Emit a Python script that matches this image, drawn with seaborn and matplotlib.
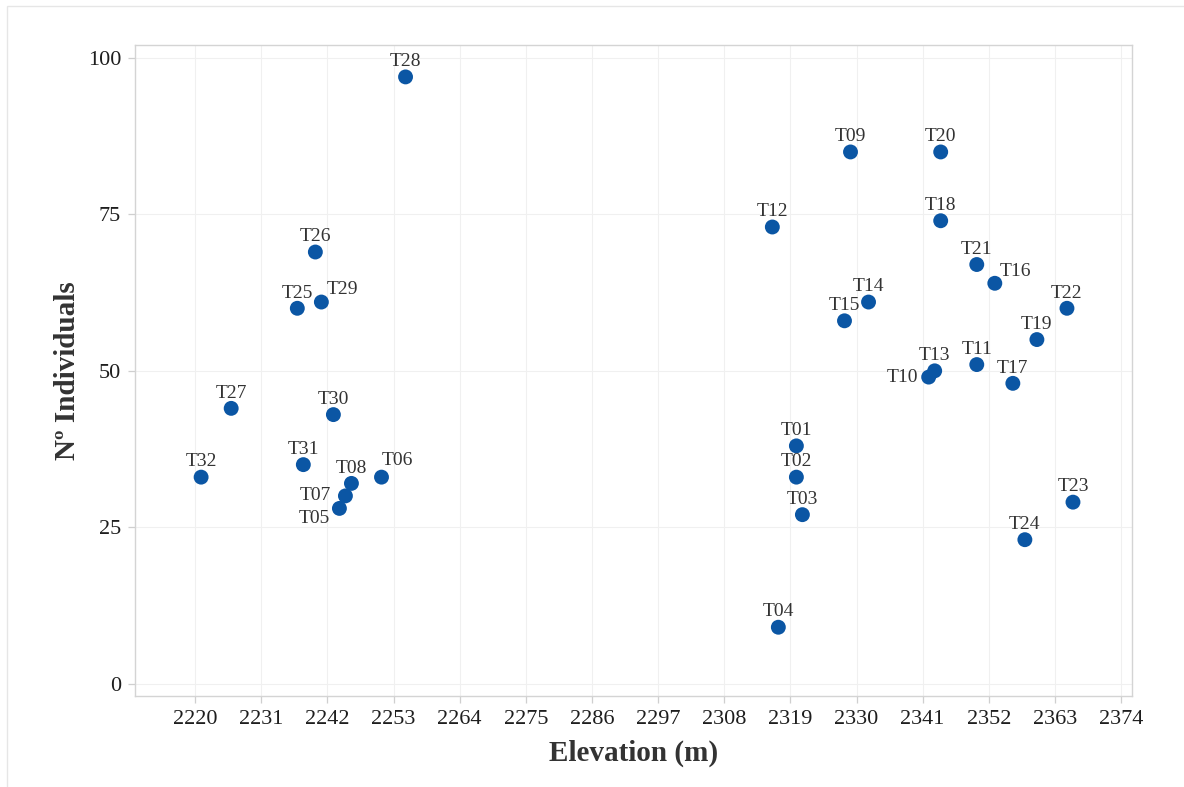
import matplotlib
matplotlib.use("Agg")
import matplotlib.pyplot as plt
import seaborn as sns
import pandas as pd
from matplotlib.patches import Rectangle

# ---- data ----
sites = ["T01", "T02", "T03", "T04", "T05", "T06", "T07", "T08", "T09", "T10",
         "T11", "T12", "T13", "T14", "T15", "T16", "T17", "T18", "T19", "T20",
         "T21", "T22", "T23", "T24", "T25", "T26", "T27", "T28", "T29", "T30",
         "T31", "T32"]
elevation = [2320, 2320, 2321, 2317, 2244, 2251, 2245, 2246, 2329, 2342,
             2350, 2316, 2343, 2332, 2328, 2353, 2356, 2344, 2360, 2344,
             2350, 2365, 2366, 2358, 2237, 2240, 2226, 2255, 2241, 2243,
             2238, 2221]
individuals = [38, 33, 27, 9, 28, 33, 30, 32, 85, 49,
               51, 73, 50, 61, 58, 64, 48, 74, 55, 85,
               67, 60, 29, 23, 60, 69, 44, 97, 61, 43,
               35, 33]
x_ticks = [2220, 2231, 2242, 2253, 2264, 2275, 2286, 2297, 2308, 2319,
           2330, 2341, 2352, 2363, 2374]
y_ticks = [0, 25, 50, 75, 100]

df = pd.DataFrame({"site": sites, "elev": elevation, "n": individuals})

# label placement (offset in points, horizontal alignment)
default_place = ((0, 11.0), "center")
special_place = {
    "T29": ((15.5, 8.8), "center"),
    "T16": ((15.0, 8.8), "center"),
    "T06": ((11.5, 12.0), "center"),
    "T10": ((-7.2, 0.0), "right"),
    "T07": ((-10.0, 0.0), "right"),
    "T05": ((-6.6, -7.0), "right"),
}

sns.set_theme(style="whitegrid")
plt.rcParams["font.family"] = ["Liberation Serif", "DejaVu Serif"]

fig = plt.figure(figsize=(11.84, 7.87), dpi=100)
ax = fig.add_axes([0.114, 0.1156, 0.842, 0.8272])

sns.scatterplot(data=df, x="elev", y="n", ax=ax, s=115, color="#0B56A4",
                edgecolor="none", zorder=3)

for name, xv, yv in zip(sites, elevation, individuals):
    off, ha = special_place.get(name, default_place)
    ax.annotate(name, (xv, yv), xytext=off, textcoords="offset points",
                ha=ha, va="center", fontsize=14, color="#333333", zorder=4)

ax.set_xlim(2210, 2375.8)
ax.set_ylim(-2.0, 102.1)
ax.set_xticks(x_ticks)
ax.set_yticks(y_ticks)
ax.set_xticklabels([str(v) for v in x_ticks])
ax.set_yticklabels([str(v) for v in y_ticks])

ax.grid(True, color="#f0f0f0", linewidth=0.8)
ax.set_axisbelow(True)
for sp in ax.spines.values():
    sp.set_color("#d4d4d4")
    sp.set_linewidth(1.0)
ax.tick_params(axis="both", which="major", length=5, width=0.9, color="#cfcfcf",
               labelsize=16, labelcolor="#1e1e1e", pad=5, bottom=True, left=True)

ax.set_xlabel("Elevation (m)", fontsize=21, fontweight="bold", color="#333333", labelpad=8)
ax.set_ylabel("Nº Individuals", fontsize=21, fontweight="bold", color="#333333", labelpad=5)

# faint outer frame of the figure
fig.patches.append(Rectangle((7 / 1184, -0.2), 1.2, 1.2 - 6 / 787,
                             transform=fig.transFigure, fill=False,
                             edgecolor="#e6e6e6", linewidth=1.0, zorder=0))

fig.savefig("out.png", dpi=100, facecolor="white")
